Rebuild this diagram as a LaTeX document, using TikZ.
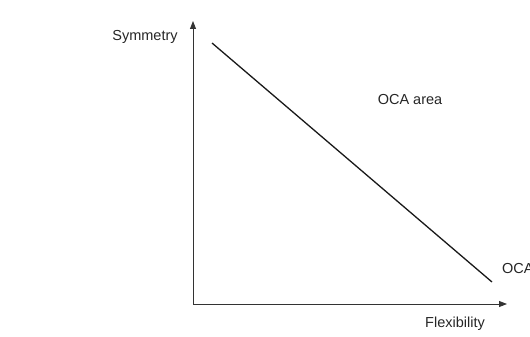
\documentclass[tikz,border=0pt]{standalone}
\usepackage{fontspec}
\setmainfont{Liberation Sans}
\usetikzlibrary{arrows.meta}
\begin{document}
\begin{tikzpicture}[x=1pt,y=-1pt,
  axis/.style={draw=black!80,line width=0.9pt,-{Triangle[length=8pt,width=6pt]}},
  lbl/.style={font=\fontsize{14.5}{16}\selectfont,text=black!85,inner sep=0pt},
  diag/.style={draw=black!90,line width=1.3pt}]
\useasboundingbox (0,0) rectangle (530,337);
\coordinate (o) at (193,304);
\coordinate (ytop) at (193,21);
\coordinate (xend) at (507,304);
\coordinate (d1) at (212,43);
\coordinate (d2) at (492,282);
\draw[axis] (o) -- (ytop);
\draw[axis] (o) -- (xend);
\draw[diag] (d1) -- (d2);
\node[lbl] (sym) at (145,37) {Symmetry};
\node[lbl] (area) at (410,100) {OCA area};
\node[lbl,anchor=west] (oca) at (502,269) {OCA};
\node[lbl] (flex) at (455,324) {Flexibility};
\end{tikzpicture}
\end{document}
